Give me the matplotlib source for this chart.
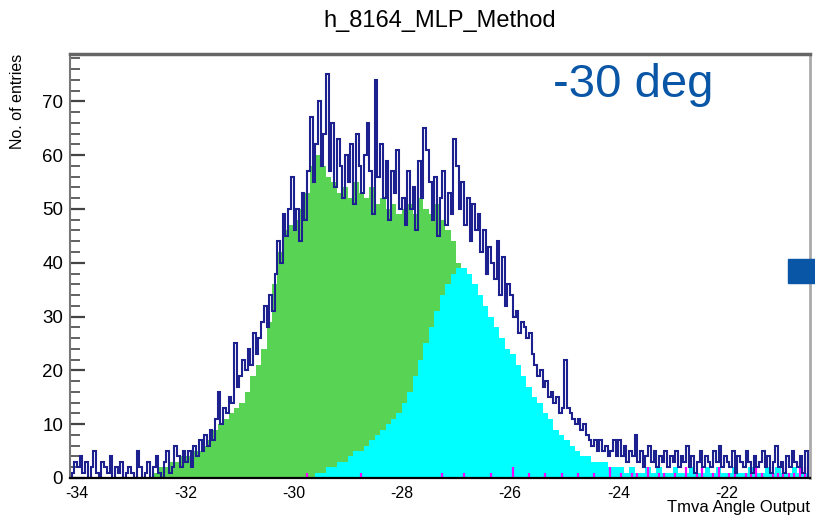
import numpy as np
import matplotlib
matplotlib.use('Agg')
import matplotlib.pyplot as plt
from matplotlib.ticker import MultipleLocator
from matplotlib.patches import Rectangle

plt.rcParams['font.family'] = ['Liberation Sans', 'DejaVu Sans']
plt.rcParams['axes.unicode_minus'] = False

# blue outline histogram, 0.05 wide bins from -34.1
blue_start = -34.1
blue_width = 0.05
blue_counts = [
    1, 3,
    2, 4, 1, 3, 0, 2, 5, 1, 0, 3, 2, 1, 4, 0, 2, 1, 3, 0, 1, 2,
    1, 0, 5, 2, 0, 1, 3, 0, 2, 4, 1, 0, 3, 5, 1, 2, 6, 4, 2, 5,
    3, 5, 2, 6, 4, 7, 5, 8, 6, 9, 7, 11, 16, 10, 13, 12, 15, 14, 25, 17,
    19, 22, 20, 24, 21, 27, 23, 26, 29, 32, 28, 34, 31, 38, 44, 40, 49, 45, 50, 56,
    46, 50, 44, 53, 48, 57, 67, 55, 62, 70, 58, 64, 75, 57, 66, 54, 63, 58, 52, 60,
    55, 62, 51, 64, 58, 53, 60, 66, 57, 49, 74, 56, 62, 52, 59, 48, 57, 53, 61, 50,
    52, 47, 57, 50, 54, 46, 59, 52, 65, 61, 55, 48, 56, 45, 52, 57, 47, 53, 49, 63,
    58, 50, 55, 47, 52, 44, 51, 46, 49, 42, 46, 38, 43, 40, 37, 44, 34, 41, 32, 36,
    34, 30, 31, 27, 29, 28, 26, 27, 23, 21, 19, 20, 17, 18, 15, 16, 14, 15, 12, 13,
    22, 13, 12, 11, 10, 11, 9, 10, 8, 7, 6, 7, 5, 7, 5, 6, 4, 5, 7, 4,
    7, 4, 6, 3, 5, 4, 8, 3, 5, 2, 4, 6, 3, 5, 2, 4, 3, 5, 2, 4,
    3, 5, 2, 4, 3, 6, 2, 4, 1, 3, 5, 2, 4, 3, 2, 5, 3, 6, 2, 4,
    3, 2, 5, 1, 4, 3, 2, 5, 3, 1, 4, 2, 3, 5, 2, 4, 1, 3, 6, 2,
    3, 1, 4, 2, 5, 3, 2, 4, 1, 5,
]

# green filled histogram, 0.1 wide bins from -32.6
green_start = -32.6
green_width = 0.1
green_counts = [
    1, 2, 2, 3, 3, 4, 4, 5, 5, 6,
    7, 9, 10, 11, 12, 13, 14, 16, 19, 21,
    24, 29, 36, 42, 46, 47, 48, 50, 53, 58,
    60, 58, 56, 55, 53, 54, 52, 55, 53, 52,
    54, 51, 52, 50, 51, 49, 50, 51, 49, 52,
    50, 49, 51, 48, 46, 44, 40, 36, 33, 28,
    24, 20, 16, 12, 9, 6, 4, 3, 2, 1,
]

# cyan filled histogram, 0.1 wide bins from -29.6
cyan_start = -29.6
cyan_width = 0.1
cyan_counts = [
    1, 1, 2, 2, 3, 3, 4, 5, 5, 6,
    7, 8, 9, 10, 11, 12, 14, 16, 19, 22,
    25, 28, 31, 34, 36, 38, 39, 39, 38, 36,
    34, 32, 30, 28, 26, 24, 23, 21, 19, 17,
    15, 14, 12, 11, 9, 8, 7, 6, 5, 4,
    4, 3, 3, 3, 2, 2,
    2, 1, 2, 1, 1, 2, 1, 2, 1, 1,
    2, 1, 1, 2, 1, 1, 2, 1, 2, 1,
    1, 2, 1, 1, 2, 1, 1, 2, 1, 2,
    1, 1, 2, 1, 1,
]

# magenta histogram, 0.1 wide bins from -30.0
magenta_start = -30.0
magenta_width = 0.1
magenta_counts = [
    0, 0, 1, 0, 0, 0, 0, 0, 0, 0,
    0, 0, 1, 0, 0, 0, 0, 0, 0, 0,
    0, 0, 0, 0, 0, 0, 0, 1, 0, 0,
    0, 1, 0, 0, 0, 0, 1, 0, 0, 0,
    2, 0, 0, 1, 0, 0, 1, 0, 0, 1,
    0, 0, 1, 0, 0, 1, 0, 0, 2, 0,
    1, 0, 1, 1, 0, 2, 0, 1, 1, 0,
    1, 0, 2, 0, 1, 2, 0, 1, 2, 0,
    1, 2, 0, 1, 2, 2, 1, 0, 2, 1,
    2, 1, 1, 3, 2,
]


def edges(start, width, counts):
    return start + width * np.arange(len(counts) + 1)


fig = plt.figure(figsize=(8.15, 5.18), dpi=100)
ax = fig.add_axes([70 / 815, 40 / 518, 740 / 815, 424 / 518])

ax.stairs(green_counts, edges(green_start, green_width, green_counts),
          fill=True, color='#59d354', zorder=1)
ax.stairs(cyan_counts, edges(cyan_start, cyan_width, cyan_counts),
          fill=True, color='#00ffff', zorder=1.2)
m_edges = edges(magenta_start, magenta_width, magenta_counts)
ax.vlines((m_edges[:-1] + m_edges[1:]) / 2, 0, magenta_counts,
          color='#ff00ff', lw=1.6, zorder=2)
ax.stairs(blue_counts, edges(blue_start, blue_width, blue_counts),
          color='#1d208f', lw=1.5, zorder=2.2)

ax.set_xlim(-34.13, -20.46)
ax.set_ylim(0, 78.8)

ax.xaxis.set_major_locator(MultipleLocator(2))
ax.yaxis.set_major_locator(MultipleLocator(10))
ax.yaxis.set_minor_locator(MultipleLocator(2))
ax.tick_params(axis='x', length=0, pad=6, labelsize=11.5)
ax.tick_params(axis='y', which='major', direction='in', length=11, width=1.6,
               color='#444444', pad=5, labelsize=13.5)
ax.tick_params(axis='y', which='minor', direction='in', length=7, width=1.3,
               color='#555555')
for lab in ax.get_yticklabels():
    lab.set_family(['Liberation Sans Narrow', 'Liberation Sans'])

ax.spines['top'].set_color('#666666')
ax.spines['top'].set_linewidth(2.5)
ax.spines['right'].set_color('#aaaaaa')
ax.spines['right'].set_linewidth(2)
ax.spines['left'].set_color('#777777')
ax.spines['left'].set_linewidth(1.5)
ax.spines['bottom'].set_color('black')
ax.spines['bottom'].set_linewidth(1.6)

fig.text(440 / 815, 1 - 27 / 518, 'h_8164_MLP_Method', ha='center',
         va='baseline', fontsize=17)
fig.text(18 / 815, 1 - 54 / 518, 'No. of entries', rotation=90,
         ha='center', va='top', fontsize=11.5)
fig.text(810 / 815, 1 - 512 / 518, 'Tmva Angle Output', ha='right',
         va='baseline', fontsize=12)
fig.text(553 / 815, 1 - 97 / 518, '-30 deg', ha='left', va='baseline',
         fontsize=34, color='#0a56a6')

fig.add_artist(Rectangle((788 / 815, 1 - 283 / 518), 27 / 815, 24 / 518,
                         transform=fig.transFigure, color='#0a56a6',
                         zorder=5))

fig.savefig('out.png', dpi=100)
